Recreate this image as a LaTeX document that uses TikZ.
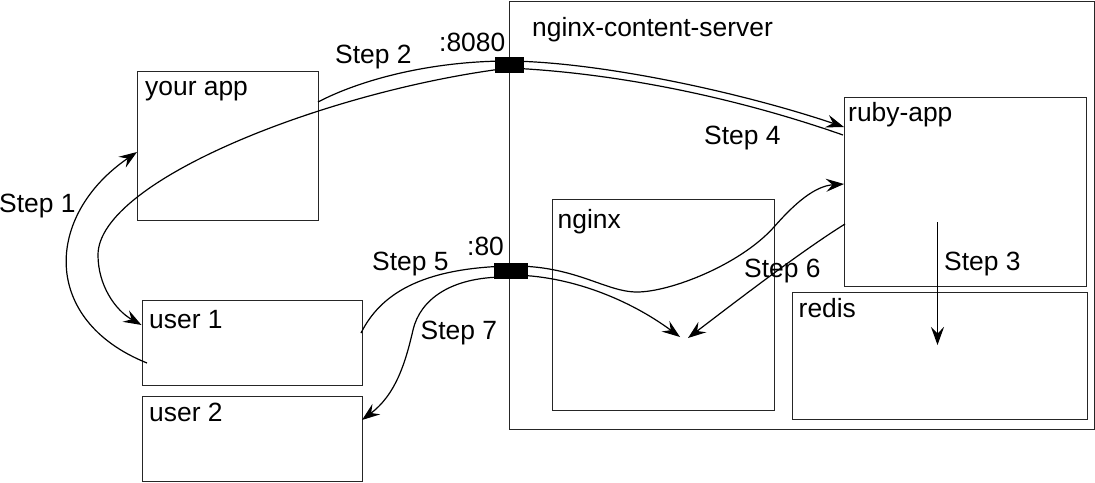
\documentclass[tikz,border=0pt]{standalone}
\usepackage{fontspec}
\setmainfont{Liberation Sans}
\usetikzlibrary{arrows.meta}
\begin{document}
\begin{tikzpicture}[x=1pt,y=-1pt,
  box/.style={draw=black!85,line width=1.3pt,inner sep=0pt,anchor=north west},
  port/.style={fill=black,draw=none,inner sep=0pt},
  lbl/.style={inner sep=0pt,anchor=base west,font=\fontsize{26.4}{30}\selectfont},
  conn/.style={line width=1.2pt,black},
  arr/.style={conn,-{Stealth[length=18pt,width=13pt,inset=6.5pt]}}]
\useasboundingbox (0,0) rectangle (1095,482);
% boxes
\node[box,minimum width=585pt,minimum height=428pt] (server) at (509,1) {};
\node[box,minimum width=181pt,minimum height=149pt] (yourapp) at (137,71) {};
\node[box,minimum width=220pt,minimum height=85pt] (user1) at (141.5,300) {};
\node[box,minimum width=220pt,minimum height=85pt] (user2) at (141.5,396) {};
\node[box,minimum width=242pt,minimum height=189pt] (ruby) at (844,97) {};
\node[box,minimum width=295pt,minimum height=127pt] (redis) at (792,291.5) {};
\node[box,minimum width=222pt,minimum height=211pt] (nginx) at (552,199) {};
% box labels
\node[lbl] (serverL) at (532,36) {nginx-content-server};
\node[lbl] (yourappL) at (145,95) {your app};
\node[lbl] (user1L) at (149,328) {user 1};
\node[lbl] (user2L) at (149,421.5) {user 2};
\node[lbl] (rubyL) at (848,121.5) {ruby-app};
\node[lbl] (redisL) at (798.5,317) {redis};
\node[lbl] (nginxL) at (557.5,228) {nginx};
% connector end points
\coordinate (s1a) at (147,363);
\coordinate (s1b) at (137,152);
\coordinate (s2a) at (318,102);
\coordinate (s2b) at (844,127);
\coordinate (s3a) at (937.5,222);
\coordinate (s3b) at (937.5,345);
\coordinate (s4a) at (843,135);
\coordinate (s4b) at (141.5,325);
\coordinate (s5a) at (361,333);
\coordinate (s5b) at (844,184);
\coordinate (s5c) at (510,275);
\coordinate (s5d) at (680,337);
\coordinate (s6a) at (845,224);
\coordinate (s6b) at (688,338);
\coordinate (s7a) at (505,277);
\coordinate (s7b) at (362,420);
% connectors
\draw[arr] (s1a) .. controls (40,320) and (45,215) .. (s1b);
\draw[arr] (s2a) .. controls (360,80) and (430,61) .. (509,61)
  .. controls (600,62) and (740,92) .. (s2b);
\draw[arr] (s3a) -- (s3b);
\draw[arr] (s4a) .. controls (720,92) and (600,72) .. (509,68)
  .. controls (330,90) and (98,180) .. (98,255)
  .. controls (98,285) and (115,310) .. (s4b);
\draw[arr] (s5a) .. controls (380,295) and (420,268) .. (510,266)
  .. controls (575,265) and (605,292) .. (637,292)
  .. controls (670,292) and (740,265) .. (774,227)
  .. controls (795,203) and (815,186) .. (s5b);
\draw[arr] (s5c) .. controls (570,275) and (630,300) .. (s5d);
\draw[arr] (s6a) .. controls (800,252) and (730,306) .. (s6b);
\draw[arr] (s7a) .. controls (450,277) and (420,300) .. (413,330)
  .. controls (405,365) and (395,395) .. (s7b);
% ports
\node[port,minimum width=29pt,minimum height=16pt] (p8080) at (509.5,65) {};
\node[port,minimum width=34pt,minimum height=16pt] (p80) at (511,271) {};
\node[lbl] (p8080L) at (439,51.5) {:8080};
\node[lbl] (p80L) at (467,255) {:80};
% step labels
\node[lbl] (st1) at (-1,212.5) {Step 1};
\node[lbl] (st2) at (335,63) {Step 2};
\node[lbl] (st3) at (944,270.5) {Step 3};
\node[lbl] (st4) at (704,144) {Step 4};
\node[lbl] (st5) at (372,270) {Step 5};
\node[lbl] (st6) at (744,277) {Step 6};
\node[lbl] (st7) at (420.5,339) {Step 7};
\end{tikzpicture}
\end{document}
